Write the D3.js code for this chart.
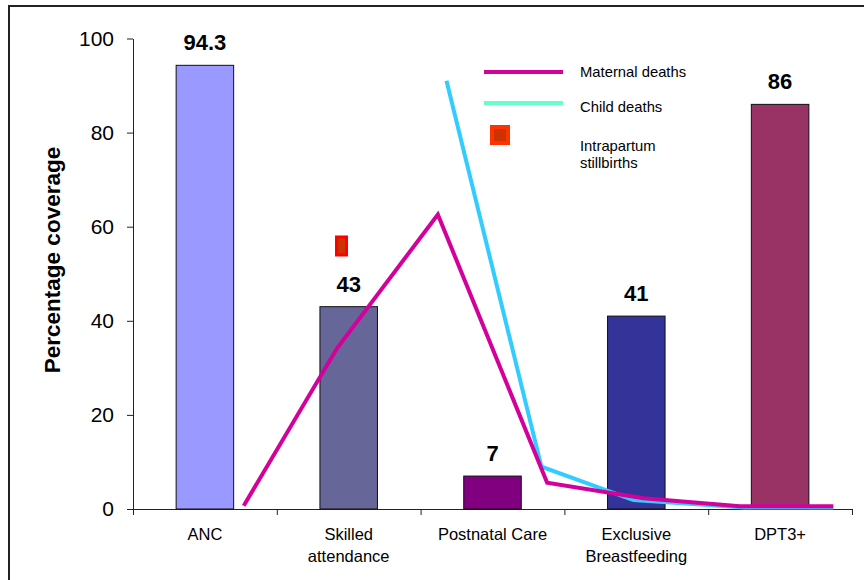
<!DOCTYPE html>
<html>
<head>
<meta charset="utf-8">
<script src="https://cdn.jsdelivr.net/npm/d3@7"></script>
<style>
  body { margin: 0; background: #fff; }
  svg { font-family: "Liberation Sans", Arial, sans-serif; }
</style>
</head>
<body>
<script>
const d3 = window.d3;

// bars
const categories = ["ANC", "Skilled attendance", "Postnatal Care", "Exclusive Breastfeeding", "DPT3+"];
const tickLines = [["ANC"], ["Skilled", "attendance"], ["Postnatal Care"], ["Exclusive", "Breastfeeding"], ["DPT3+"]];
const coverage = [94.3, 43, 7, 41, 86];
const yTicks = [0, 20, 40, 60, 80, 100];

// lines on a hidden secondary x axis (0..5)
const maternalX = [0.77, 1.42, 2.12, 2.88, 3.55, 4.22, 4.87];
const maternalY = [0.7, 34.2, 62.6, 5.6, 2.3, 0.6, 0.6];
const childX = [2.18, 2.84, 3.48, 4.25, 4.87];
const childY = [91.0, 9.0, 1.9, 0.3, 0.3];
const stillbirthX = [1.45];
const stillbirthY = [55.9];

const legendNames = ["Maternal deaths", "Child deaths", "Intrapartum stillbirths"];

const barColors = ["#9999ff", "#666699", "#800080", "#333399", "#993366"];
const maternalColor = "#d4009a";
const childColor = "#33ccff";
const childLegendColor = "#66ffcc";

const margin = {top: 38.5, right: 12, bottom: 71, left: 133};
const W = 864, H = 580;
const width = W - margin.left - margin.right;
const height = H - margin.top - margin.bottom;

const root = d3.select("body").append("svg")
    .attr("width", W)
    .attr("height", H);

// outer frame
root.append("rect")
    .attr("x", 9).attr("y", 6)
    .attr("width", 900).attr("height", 700)
    .attr("fill", "none")
    .attr("stroke", "#222")
    .attr("stroke-width", 2);

const svg = root.append("g")
    .attr("transform", `translate(${margin.left},${margin.top})`);

const x = d3.scaleBand()
    .domain(categories)
    .range([0, width])
    .paddingInner(0.6)
    .paddingOuter(0.3);

const x2 = d3.scaleLinear()
    .domain([0, 5])
    .range([0, width]);

const y = d3.scaleLinear()
    .domain([0, 100])
    .range([height, 0]);

// y axis
const yAxis = svg.append("g")
    .call(d3.axisLeft(y).tickValues(yTicks).tickSize(6).tickPadding(13).tickSizeOuter(0));
yAxis.select(".domain").attr("stroke", "#222");
yAxis.selectAll(".tick line").attr("stroke", "#222");
yAxis.selectAll("text")
    .attr("font-size", 21)
    .attr("font-family", "Liberation Sans, Arial, sans-serif")
    .attr("fill", "#000");

svg.append("text")
    .attr("transform", `translate(${52 - margin.left},${260 - margin.top}) rotate(-90)`)
    .attr("text-anchor", "middle")
    .attr("dy", "0.35em")
    .attr("font-size", 22.5)
    .attr("font-weight", "bold")
    .text("Percentage coverage");

// x axis: ticks at category boundaries
const xAxis = svg.append("g")
    .attr("transform", `translate(0,${height})`)
    .call(d3.axisBottom(x2).tickValues(d3.range(0, 6)).tickSize(6).tickSizeOuter(0).tickFormat(""));
xAxis.select(".domain").attr("stroke", "#222");
xAxis.selectAll(".tick line").attr("stroke", "#222");

const labels = svg.append("g")
    .selectAll("text")
    .data(categories)
    .enter()
    .append("text")
        .attr("x", d => x(d) + x.bandwidth() / 2)
        .attr("y", height + 31)
        .attr("text-anchor", "middle")
        .attr("font-size", 16.5);
labels.selectAll("tspan")
    .data((d, i) => tickLines[i])
    .enter()
    .append("tspan")
        .attr("x", function() { return this.parentNode.getAttribute("x"); })
        .attr("dy", (d, i) => i === 0 ? 0 : 21.5)
        .text(d => d);

// bars
svg.selectAll("rect.bar")
    .data(coverage)
    .enter()
    .append("rect")
        .attr("class", "bar")
        .attr("x", (v, i) => x(categories[i]))
        .attr("y", v => y(v))
        .attr("width", x.bandwidth())
        .attr("height", v => height - y(v))
        .attr("fill", (v, i) => barColors[i])
        .attr("stroke", "#111")
        .attr("stroke-width", 1);

svg.selectAll("text.val")
    .data(coverage)
    .enter()
    .append("text")
        .attr("class", "val")
        .attr("x", (v, i) => x(categories[i]) + x.bandwidth() / 2)
        .attr("y", v => y(v) - 15)
        .attr("text-anchor", "middle")
        .attr("font-size", 22)
        .attr("font-weight", "bold")
        .text(v => v);

// lines
const line = d3.line()
    .x(d => x2(d[0]))
    .y(d => y(d[1]));

svg.append("path")
    .datum(d3.zip(childX, childY))
    .attr("d", line)
    .attr("fill", "none")
    .attr("stroke", childColor)
    .attr("stroke-width", 4);

svg.append("path")
    .datum(d3.zip(maternalX, maternalY))
    .attr("d", line)
    .attr("fill", "none")
    .attr("stroke", maternalColor)
    .attr("stroke-width", 4);

svg.selectAll("rect.still")
    .data(d3.zip(stillbirthX, stillbirthY))
    .enter()
    .append("rect")
        .attr("class", "still")
        .attr("x", d => x2(d[0]) - 5)
        .attr("y", d => y(d[1]) - 9)
        .attr("width", 10)
        .attr("height", 18)
        .attr("fill", "#cc3300")
        .attr("stroke", "#ff0000")
        .attr("stroke-width", 3);

// legend
const legend = root.append("g");
legend.append("line")
    .attr("x1", 484).attr("x2", 563)
    .attr("y1", 72).attr("y2", 72)
    .attr("stroke", maternalColor)
    .attr("stroke-width", 4);
legend.append("line")
    .attr("x1", 484).attr("x2", 563)
    .attr("y1", 103).attr("y2", 103)
    .attr("stroke", childLegendColor)
    .attr("stroke-width", 4);
legend.append("rect")
    .attr("x", 492).attr("y", 127)
    .attr("width", 16).attr("height", 16)
    .attr("fill", "#cc3300")
    .attr("stroke", "#ff3300")
    .attr("stroke-width", 4);

legend.append("text")
    .attr("x", 580).attr("y", 77)
    .attr("font-size", 14.8)
    .text(legendNames[0]);
legend.append("text")
    .attr("x", 580).attr("y", 112)
    .attr("font-size", 14.8)
    .text(legendNames[1]);
const sb = legend.append("text")
    .attr("x", 580).attr("y", 151)
    .attr("font-size", 14.8);
sb.append("tspan").attr("x", 580).text(legendNames[2].split(" ")[0]);
sb.append("tspan").attr("x", 580).attr("dy", 17).text(legendNames[2].split(" ")[1]);
</script>
</body>
</html>
